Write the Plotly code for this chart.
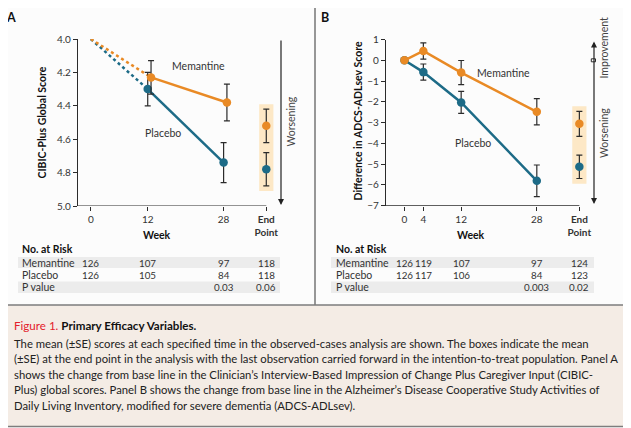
import plotly.graph_objects as go

# the page body adds an 8px margin, so the figure is drawn 8px in from the window edge
W, H = 631, 428
OFF = 8
FIG_W, FIG_H = W - OFF, H - OFF

# Panel A - CIBIC-Plus global score (observed cases)
weeks_a = [12, 28]
baseline_a = 4.0
mem_a = [4.23, 4.38]
mem_a_se = [0.10, 0.11]
pla_a = [4.30, 4.74]
pla_a_se = [0.10, 0.12]
end_a = [4.52, 4.78]          # memantine, placebo (LOCF end point)
end_a_se = [0.10, 0.10]

# Panel B - ADCS-ADLsev change from baseline
weeks_b = [0, 4, 12, 28]
mem_b = [0, 0.45, -0.59, -2.48]
mem_b_se = [None, 0.39, 0.58, 0.63]
pla_b = [0, -0.57, -2.03, -5.80]
pla_b_se = [None, 0.39, 0.53, 0.76]
end_b = [-3.06, -5.13]
end_b_se = [0.60, 0.56]

# number at risk tables
risk_weeks_a = [0, 12, 28, "End"]
risk_mem_a = ["126", "107", "97", "118"]
risk_pla_a = ["126", "105", "84", "118"]
pval_a = ["", "", "0.03", "0.06"]

risk_weeks_b = [0, 4, 12, 28, "End"]
risk_mem_b = ["126", "119", "107", "97", "124"]
risk_pla_b = ["126", "117", "106", "84", "123"]
pval_b = ["", "", "", "0.003", "0.02"]

caption_lines = [
    "The mean (±SE) scores at each specified time in the observed-cases analysis are shown. The boxes indicate the mean",
    "(±SE) at the end point in the analysis with the last observation carried forward in the intention-to-treat population. Panel A",
    "shows the change from base line in the Clinician’s Interview-Based Impression of Change Plus Caregiver Input (CIBIC-",
    "Plus) global scores. Panel B shows the change from base line in the Alzheimer’s Disease Cooperative Study Activities of",
    "Daily Living Inventory, modified for severe dementia (ADCS-ADLsev).",
]

END = 37  # x position used for the end-point column
ORANGE = "#e98a25"
TEAL = "#1d6b87"
INK = "#2b2b2b"
FONT = "Lato"


def px(x):
    return (x - OFF) / FIG_W


def py(y):
    return 1 - (y - OFF) / FIG_H


def wk(v):
    return END if v == "End" else v


fig = go.Figure()


def err(se, color=INK):
    return dict(type="data", array=se, color=color, thickness=1.2, width=3)


MS = 8.5

# ---- panel A traces
fig.add_trace(go.Scatter(x=[0, weeks_a[0]], y=[baseline_a, pla_a[0]], mode="lines",
                         line=dict(color=TEAL, width=2.5, dash="dot"), xaxis="x", yaxis="y"))
fig.add_trace(go.Scatter(x=[0, weeks_a[0] + 0.7], y=[baseline_a, mem_a[0]], mode="lines",
                         line=dict(color=ORANGE, width=2.5, dash="dot"), xaxis="x", yaxis="y"))
fig.add_trace(go.Scatter(x=weeks_a, y=pla_a, error_y=err(pla_a_se), mode="lines+markers",
                         line=dict(color=TEAL, width=2.5), marker=dict(size=MS, color=TEAL),
                         xaxis="x", yaxis="y", cliponaxis=False))
fig.add_trace(go.Scatter(x=[w + 0.7 for w in weeks_a], y=mem_a, error_y=err(mem_a_se),
                         mode="lines+markers", line=dict(color=ORANGE, width=2.5),
                         marker=dict(size=MS, color=ORANGE), xaxis="x", yaxis="y", cliponaxis=False))
fig.add_trace(go.Scatter(x=[END, END], y=end_a, error_y=err(end_a_se), mode="markers",
                         marker=dict(size=MS, color=[ORANGE, TEAL]), xaxis="x", yaxis="y",
                         cliponaxis=False))

# ---- panel B traces
fig.add_trace(go.Scatter(x=weeks_b, y=pla_b, error_y=err(pla_b_se), mode="lines+markers",
                         line=dict(color=TEAL, width=2.5), marker=dict(size=MS, color=TEAL),
                         xaxis="x2", yaxis="y2", cliponaxis=False))
fig.add_trace(go.Scatter(x=weeks_b, y=mem_b, error_y=err(mem_b_se), mode="lines+markers",
                         line=dict(color=ORANGE, width=2.5), marker=dict(size=MS, color=ORANGE),
                         xaxis="x2", yaxis="y2", cliponaxis=False))
fig.add_trace(go.Scatter(x=[END, END], y=end_b, error_y=err(end_b_se), mode="markers",
                         marker=dict(size=MS, color=[ORANGE, TEAL]), xaxis="x2", yaxis="y2",
                         cliponaxis=False))

shapes = []
ann = []

# frame, divider and caption box
shapes.append(dict(type="rect", xref="paper", yref="paper", x0=px(0.5), x1=px(629.5),
                   y0=py(305), y1=py(426.5), fillcolor="#f4ece5", line=dict(width=0), layer="below"))
shapes.append(dict(type="rect", xref="paper", yref="paper", x0=px(0.8), x1=px(629.2),
                   y0=py(0.8), y1=py(426.5), line=dict(color="#7d7d7d", width=1.6)))
shapes.append(dict(type="line", xref="paper", yref="paper", x0=px(0.8), x1=px(629.2),
                   y0=py(305), y1=py(305), line=dict(color="#7d7d7d", width=1.6)))
shapes.append(dict(type="line", xref="paper", yref="paper", x0=px(315), x1=px(315),
                   y0=py(0.8), y1=py(305), line=dict(color="#7d7d7d", width=1.6)))

# table bands
for x0, x1 in [(18, 280), (331, 594)]:
    for y0, y1 in [(257, 268), (281.5, 293)]:
        shapes.append(dict(type="rect", xref="paper", yref="paper", x0=px(x0), x1=px(x1),
                           y0=py(y1), y1=py(y0), fillcolor="#ececec", line=dict(width=0),
                           layer="below"))

# end-point highlight boxes, padded around the error bars
for xa, ya, vals, se, pad in [("x", "y", end_a, end_a_se, 0.03), ("x2", "y2", end_b, end_b_se, 0.25)]:
    lo = min(v - s for v, s in zip(vals, se)) - pad
    hi = max(v + s for v, s in zip(vals, se)) + pad
    shapes.append(dict(type="rect", xref=xa, yref=ya, x0=END - 1.5, x1=END + 1.5, y0=lo, y1=hi,
                       fillcolor="#fde8c6", line=dict(width=0), layer="below"))

# x baselines (stop at the end-point tick)
shapes.append(dict(type="line", xref="x", yref="y", x0=-2.7, x1=END, y0=5.0, y1=5.0,
                   line=dict(color=INK, width=1.2)))
shapes.append(dict(type="line", xref="x2", yref="y2", x0=-3.9, x1=END, y0=-7, y1=-7,
                   line=dict(color=INK, width=1.2)))

# break mark on panel B arrow at zero
shapes.append(dict(type="rect", xref="paper", yref="paper", x0=px(591.3), x1=px(595.5),
                   y0=py(61.8), y1=py(58.8), fillcolor="white", line=dict(color=INK, width=1)))


def txt(x, y, s, size=10.5, color=INK, **kw):
    d = dict(x=px(x), y=py(y), xref="paper", yref="paper", text=s, showarrow=False,
             xanchor="center", yanchor="middle",
             font=dict(family=FONT, size=size, color=color))
    d.update(kw)
    ann.append(d)


# panel letters (top-anchored so they stay inside the figure)
txt(11, 8.5, "<b>A</b>", size=12.5, color="#111", yanchor="top")
txt(325, 8.5, "<b>B</b>", size=12.5, color="#111", yanchor="top")

# y titles
txt(42, 122.5, "<b>CIBIC-Plus Global Score</b>", size=10.5, color="#111", textangle=-90)
txt(358, 121.5, "<b>Difference in ADCS-ADLsev Score</b>", size=10.5, color="#111", textangle=-90)

# Week labels
txt(157, 235, "<b>Week</b>", size=10.5, color="#111")
txt(470.5, 235, "<b>Week</b>", size=10.5, color="#111")

# series labels
txt(198, 66, "Memantine", size=10.5, color="#333")
txt(163, 133, "Placebo", size=10.5, color="#333")
txt(503.5, 72.7, "Memantine", size=10.5, color="#333")
txt(473, 143.3, "Placebo", size=10.5, color="#333")

# direction arrows
ann.append(dict(x=px(281), y=py(205), ax=0, ay=-166, xref="paper", yref="paper",
                axref="pixel", ayref="pixel", text="", showarrow=True, arrowhead=2,
                arrowsize=1, arrowwidth=1.2, arrowcolor="#222"))
ann.append(dict(x=px(594), y=py(204), ax=0, ay=-164, xref="paper", yref="paper",
                axref="pixel", ayref="pixel", text="", showarrow=True, arrowhead=2,
                startarrowhead=2, arrowside="end+start", arrowsize=1, arrowwidth=1.2,
                arrowcolor="#222"))
txt(290.5, 122, "Worsening", size=10.5, color="#444", textangle=-90)
txt(603.5, 48, "Improvement", size=10.5, color="#444", textangle=-90)
txt(603.5, 133.5, "Worsening", size=10.5, color="#444", textangle=-90)

# number-at-risk tables
for left, xa, wks, mem, pla, pv in [(20, "x", risk_weeks_a, risk_mem_a, risk_pla_a, pval_a),
                                    (333.7, "x2", risk_weeks_b, risk_mem_b, risk_pla_b, pval_b)]:
    txt(left, 249, "<b>No. at Risk</b>", size=10.5, color="#111", xanchor="left")
    for y, lab, row in [(262.7, "Memantine", mem), (275, "Placebo", pla), (287.3, "P value", pv)]:
        txt(left, y, lab, size=10.5, color="#333", xanchor="left")
        for w, v in zip(wks, row):
            if v:
                ann.append(dict(x=wk(w), y=py(y), xref=xa, yref="paper", text=v, showarrow=False,
                                xanchor="center", yanchor="middle",
                                font=dict(family=FONT, size=9.8, color="#333")))

# caption
txt(11.5, 325, "<span style='color:#e3202b'>Figure 1.</span> <b>Primary Efficacy Variables.</b>",
    size=11.6, color="#111", xanchor="left")
for i, line in enumerate(caption_lines):
    txt(11.5, 343.3 + i * 15.5, line, size=11.3, color="#222", xanchor="left")

axis_common = dict(showgrid=False, zeroline=False, ticks="outside", ticklen=4, tickwidth=1.1,
                   automargin=False, tickcolor=INK, tickfont=dict(family=FONT, size=10, color="#333"))

fig.update_layout(
    template="none",
    width=FIG_W, height=FIG_H, margin=dict(l=0, r=0, t=0, b=0, pad=0), autosize=False,
    paper_bgcolor="#fcfcfc", plot_bgcolor="rgba(0,0,0,0)", showlegend=False,
    shapes=shapes, annotations=ann,
    xaxis=dict(axis_common, domain=[px(78), px(290)], range=[-2.7, 42], showline=False,
               tickvals=[0, 12, 28, END], ticktext=["0", "12", "28", "<b>End</b><br><b>Point</b>"],
               anchor="y"),
    yaxis=dict(axis_common, domain=[py(206), py(39)], range=[5.0, 4.0], showline=True,
               linecolor=INK, linewidth=1.2, tickvals=[4.0, 4.2, 4.4, 4.6, 4.8, 5.0],
               tickformat=".1f", anchor="x"),
    xaxis2=dict(axis_common, domain=[px(386), px(603)], range=[-3.9, 42], showline=False,
                tickvals=[0, 4, 12, 28, END],
                ticktext=["0", "4", "12", "28", "<b>End</b><br><b>Point</b>"], anchor="y2"),
    yaxis2=dict(axis_common, domain=[py(205.7), py(39.5)], range=[-7, 1], showline=True,
                linecolor=INK, linewidth=1.2, dtick=1, anchor="x2"),
)

fig.write_html("out.html")
